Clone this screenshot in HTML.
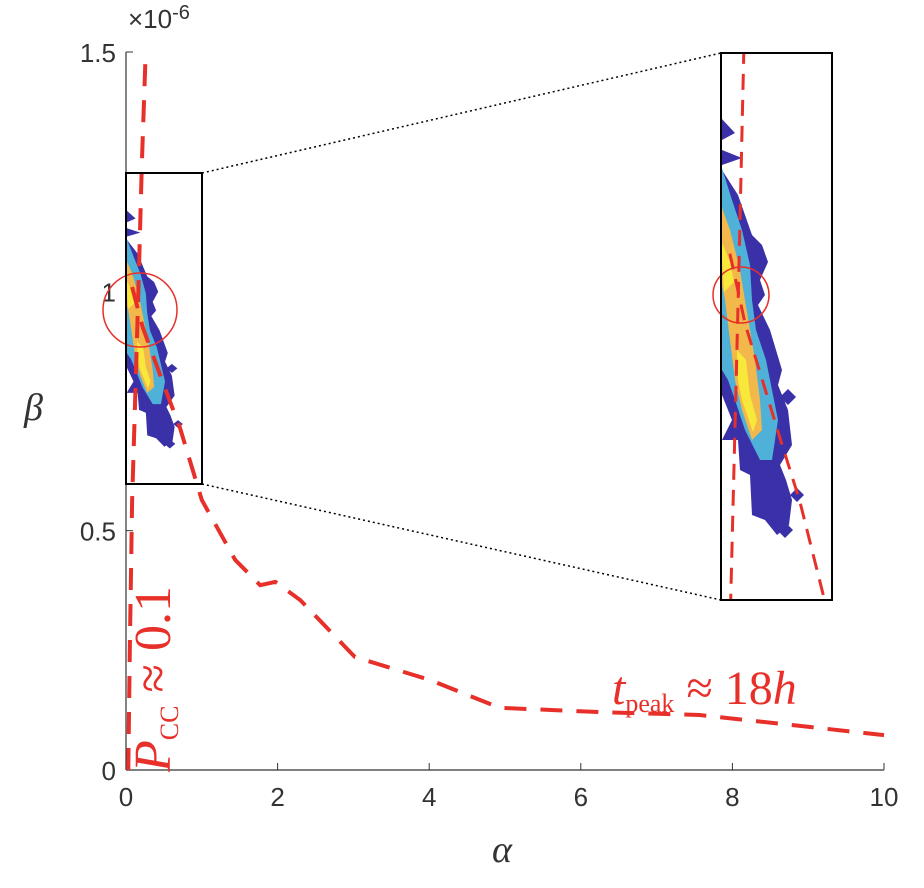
<!DOCTYPE html>
<html><head><meta charset="utf-8"><style>
html,body{margin:0;padding:0;background:#fff;overflow:hidden;width:924px;height:888px;}
svg{display:block;}
</style></head><body>
<svg id="chart" width="924" height="888" viewBox="0 0 924 888" xmlns="http://www.w3.org/2000/svg" style="font-family:'Liberation Sans',sans-serif">
<defs>
<clipPath id="smallclip"><rect x="126" y="173" width="76" height="311"/></clipPath>
<clipPath id="insetclip"><rect x="721" y="53" width="111" height="547"/></clipPath>
<g id="blob">
<polygon fill="#3a30a8" points="721,118 735,133 722,140 722,150 742,158 722,165 722,170 738,195 745,215 752,235 762,245 768,262 760,280 765,295 758,305 770,330 782,370 778,385 788,410 792,445 780,465 786,480 792,500 789,525 777,535 765,520 752,515 750,475 740,470 738,440 722,440 732,420 722,395"/>
<polygon fill="#4fb0d8" points="721,165 732,200 742,230 750,265 752,300 756,330 766,360 772,390 778,420 772,460 760,460 745,430 735,400 728,380 722,370"/>
<polygon fill="#f2b84b" points="721,205 730,230 740,270 745,300 750,330 755,360 760,400 762,430 752,440 742,410 735,380 730,340 725,300 721,280"/>
<polygon fill="#f8e83a" points="721,240 730,262 734,282 724,292"/>
<polygon fill="#f8e83a" points="737,350 746,360 750,395 757,420 753,432 742,400 738,380"/>
<polygon fill="#3a30a8" points="788,389 796,397 788,405 780,397"/>
<polygon fill="#3a30a8" points="797,488 804,495 797,502 790,495"/>
<polygon fill="#3a30a8" points="785,522 793,530 785,538 777,530"/>
</g>
</defs>
<g id="axes"></g>
<g id="marks"></g>
<text x="24" y="420" style="font-family:'Liberation Serif',serif;font-style:italic;font-size:38px" fill="#333">β</text>
<text x="492" y="862" style="font-family:'Liberation Serif',serif;font-style:italic;font-size:38px" fill="#333">α</text>
<text x="128" y="28" font-size="26" fill="#333">×10<tspan dy="-9" font-size="20">-6</tspan></text>
<text transform="translate(170,772) rotate(-90)" style="font-family:'Liberation Serif',serif;font-size:52px;font-style:italic" fill="#e8302a">P<tspan style="font-size:26px;font-style:normal" dy="8">CC</tspan><tspan dy="-8" style="font-style:normal"> ≈ 0.1</tspan></text>
<text x="612" y="704" style="font-family:'Liberation Serif',serif;font-size:48px;font-style:italic" fill="#e8302a">t<tspan style="font-size:26px;font-style:normal" dy="8">peak</tspan><tspan dy="-8" style="font-style:normal"> ≈ 18</tspan>h</text>
</svg>
<script>
const xTicks=[0,2,4,6,8,10];
const yTicks=[0,0.5,1,1.5];
const yTickLabels=["0","0.5","1","1.5"];
const tpeakAlpha=[0.08,0.22,0.38,0.54,0.71,1.0,1.44,1.77,1.97,2.3,3.02,4.01,4.93,6.25,7.57,10];
const tpeakBeta=[1.009,0.925,0.856,0.787,0.716,0.564,0.439,0.386,0.393,0.355,0.236,0.188,0.13,0.121,0.115,0.073];
const pccAlpha=[0.03,0.05,0.08,0.12,0.16,0.21,0.26];
const pccBeta=[0,0.25,0.56,0.77,0.98,1.27,1.5];
const NS='http://www.w3.org/2000/svg';
const X0=126,X1=884,Y0=770,Y1=52;
const sx=v=>X0+(v-0)/10*(X1-X0);
const sy=v=>Y0-(v/1.5)*(Y0-Y1);
function mk(t,a,p){const e=document.createElementNS(NS,t);for(const k in a)e.setAttribute(k,a[k]);(p||document.getElementById('chart')).appendChild(e);return e;}
const axes=document.getElementById('axes');
const marks=document.getElementById('marks');
let e=mk('line',{x1:X0,y1:Y1,x2:X0,y2:Y0,stroke:'#333','stroke-width':1.2},axes);


e=mk('line',{x1:X0,y1:Y0,x2:X1,y2:Y0,stroke:'#333','stroke-width':1.2},axes);


xTicks.forEach(v=>{
 mk('line',{x1:sx(v),y1:Y0,x2:sx(v),y2:Y0-7,stroke:'#333'},axes);
 const t=mk('text',{x:sx(v),y:Y0+36,'text-anchor':'middle','font-size':26,fill:'#333'},axes);
 t.textContent=v;
 
 
});
yTicks.forEach((v,i)=>{
 mk('line',{x1:X0,y1:sy(v),x2:X0+7,y2:sy(v),stroke:'#333'},axes);
 const t=mk('text',{x:X0-10,y:sy(v)+10,'text-anchor':'end','font-size':26,fill:'#333'},axes);
 t.textContent=yTickLabels[i];
 
 
});
let g=mk('g',{'clip-path':'url(#smallclip)'},marks);


mk('use',{href:'#blob',transform:'translate(126,173) scale(0.685,0.568) translate(-721,-53)'},g);
g=mk('g',{'clip-path':'url(#insetclip)'},marks);


mk('use',{href:'#blob'},g);
function path(xs,ys,fx,fy){return xs.map((v,i)=>(i?'L':'M')+fx(xs[i]).toFixed(1)+','+fy(ys[i]).toFixed(1)).join(' ');}
e=mk('path',{d:path(pccAlpha,pccBeta,sx,sy),fill:'none',stroke:'#e8302a','stroke-width':4,'stroke-dasharray':'22 14'},marks);


e=mk('path',{d:path(tpeakAlpha,tpeakBeta,sx,sy),fill:'none',stroke:'#e8302a','stroke-width':4,'stroke-dasharray':'22 14'},marks);


const ix=v=>721+(sx(v)-126)*1.46, iy=v=>53+(sy(v)-173)*1.76;
g=mk('g',{'clip-path':'url(#insetclip)'},marks);
e=mk('path',{d:path(pccAlpha,pccBeta,ix,iy),fill:'none',stroke:'#e8302a','stroke-width':3,'stroke-dasharray':'16 10'},g);


e=mk('path',{d:path(tpeakAlpha,tpeakBeta,ix,iy),fill:'none',stroke:'#e8302a','stroke-width':3,'stroke-dasharray':'16 10'},g);


e=mk('circle',{cx:140,cy:310,r:37,fill:'none',stroke:'#e8302a','stroke-width':1.5},marks);


e=mk('circle',{cx:741,cy:295,r:28,fill:'none',stroke:'#e8302a','stroke-width':1.5},marks);


e=mk('rect',{x:126,y:173,width:76,height:311,fill:'none',stroke:'#000','stroke-width':2},marks);


e=mk('rect',{x:721,y:53,width:111,height:547,fill:'none',stroke:'#000','stroke-width':2},marks);


e=mk('line',{x1:202,y1:173,x2:721,y2:53,stroke:'#000','stroke-width':1.5,'stroke-dasharray':'2 3'},marks);


e=mk('line',{x1:202,y1:484,x2:721,y2:600,stroke:'#000','stroke-width':1.5,'stroke-dasharray':'2 3'},marks);


</script>
</body></html>
